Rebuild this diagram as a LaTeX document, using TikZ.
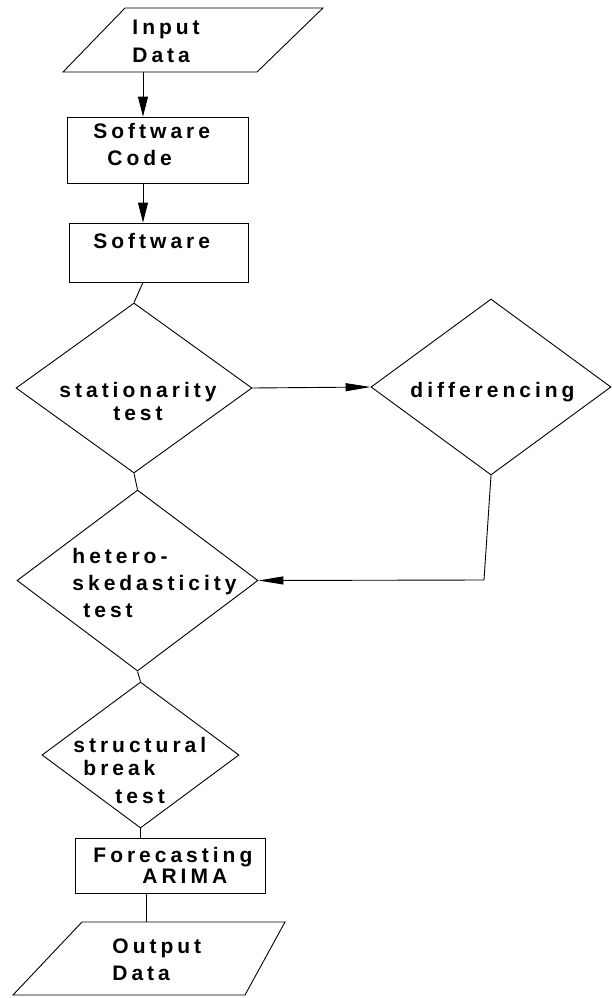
\documentclass[tikz,border=0pt]{standalone}
\usepackage{fontspec}
\newfontfamily\flowfont{Liberation Sans}[LetterSpace=19]
\usetikzlibrary{shapes.geometric,arrows.meta}
\begin{document}
\begin{tikzpicture}[x=1pt,y=-1pt,line width=0.9pt,
		box/.style={draw, rectangle, inner sep=0pt},
		dia/.style={draw, diamond, inner sep=0pt},
		txt/.style={inner sep=0pt, anchor=north west, align=left, font=\flowfont\bfseries\fontsize{21}{27}\selectfont},
		arr/.style={-{Triangle[length=20pt,width=10pt]}},
		harr/.style={-{Triangle[length=25pt,width=8pt]}}]
		\fill[white] (0,0) rectangle (611,998);
		\coordinate (spine) at (143,0);
		\coordinate (tail) at (146,0);
		\coordinate (bend) at (484,580);
		% input / output parallelograms
		\coordinate (inbl) at (63,72);
		\coordinate (outtl) at (82,922);
		\draw (inbl) -- (125,8) -- (323,8) -- (257,72) -- cycle;
		\draw (outtl) -- (285,922) -- (245,995) -- (13,995) -- cycle;
		% shapes
		\node[box, minimum width=181pt, minimum height=66pt] (code) at (157.5,150){};
		\node[box, minimum width=179pt, minimum height=59pt] (soft) at (158.5,252.5){};
		\node[dia, minimum width=236pt, minimum height=170pt] (stat) at (134,388){};
		\node[dia, minimum width=240pt, minimum height=176pt] (diff) at (491,387){};
		\node[dia, minimum width=241pt, minimum height=181pt] (het) at (137.5,580.5){};
		\node[dia, minimum width=197pt, minimum height=146pt] (str) at (140.5,755){};
		\node[box, minimum width=190pt, minimum height=55pt] (fc) at (170,865.5){};
		% texts
		\node[txt] (intxt) at (132,20){Input\\[1pt]Data};
		\node[txt] (codetxt) at (93,123){Software\\\hspace*{14pt}Code};
		\node[txt] (softtxt) at (93,233){Software};
		\node[txt, anchor=north, align=center] (stattxt) at (138,382){stationarity\\[-4pt]test};
		\node[txt] (difftxt) at (410,382){differencing};
		\node[txt] (hettxt) at (72,548){hetero-\\skedasticity\\\hspace*{11pt}test};
		\node[txt] (strtxt) at (73,737){structural\\[-4pt]\hspace*{10pt}break\\[1pt]\hspace*{42pt}test};
		\node[txt] (fctxt) at (93,847){Forecasting\\[-6pt]\hspace*{49pt}ARIMA};
		\node[txt] (outtxt) at (112,938){Output\\Data};
		% connectors
		\draw[arr] (inbl -| spine) -- (code.north -| spine);
		\draw[arr] (code.south -| spine) -- (soft.north -| spine);
		\draw (soft.south -| spine) -- (stat.north);
		\draw[harr] (stat.east) -- (diff.west);
		\draw (stat.south) -- (het.north);
		\draw[harr] (diff.south) -- (bend) -- (het.east);
		\draw (het.south) -- (str.north);
		\draw (str.south) -- (str.south |- fc.north);
		\draw (fc.south -| tail) -- (outtl -| tail);
	\end{tikzpicture}
\end{document}
